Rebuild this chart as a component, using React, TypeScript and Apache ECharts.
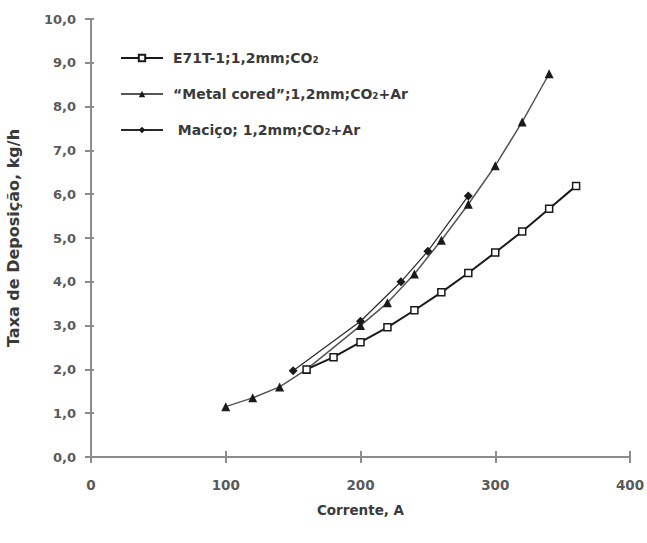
import React, { useEffect, useRef } from "react";
import * as echarts from "echarts";

const seriesNames = [
  "E71T-1;1,2mm;CO₂",
  "“Metal cored”;1,2mm;CO₂+Ar",
  " Maciço; 1,2mm;CO₂+Ar",
];

const e71Current = [160, 180, 200, 220, 240, 260, 280, 300, 320, 340, 360];
const e71Rate = [2.0, 2.28, 2.62, 2.96, 3.35, 3.76, 4.2, 4.67, 5.15, 5.67, 6.19];

const metalCurrent = [100, 120, 140, 160, 200, 220, 240, 260, 280, 300, 320, 340];
const metalRate = [1.15, 1.35, 1.6, 2.0, 3.0, 3.52, 4.18, 4.95, 5.77, 6.65, 7.65, 8.75];

const macicoCurrent = [150, 200, 230, 250, 280];
const macicoRate = [1.97, 3.1, 4.0, 4.7, 5.96];

const xTicks = [0, 100, 200, 300, 400];
const yTicks = [0, 1, 2, 3, 4, 5, 6, 7, 8, 9, 10];

const zip = (xs: number[], ys: number[]) => xs.map((x, i) => [x, ys[i]]);

export default function App() {
  const ref = useRef<HTMLDivElement>(null);
  useEffect(() => {
    if (!ref.current) return;
    const chart = echarts.init(ref.current, null, { renderer: "svg" });
    const axisColor = "#8c8c8c";
    const labelColor = "#5a5a5a";
    const font = "DejaVu Sans, Verdana, sans-serif";
    chart.setOption({
      animation: false,
      backgroundColor: "#ffffff",
      grid: { left: 91, right: 17, top: 19, bottom: 86, containLabel: false, outerBoundsMode: "none" },
      legend: {
        orient: "vertical",
        left: 115,
        top: 46,
        itemWidth: 42,
        itemHeight: 8,
        itemGap: 22,
        data: seriesNames,
        textStyle: {
          fontFamily: font,
          fontSize: 14,
          fontWeight: "bold",
          color: "#3a3a3a",
          padding: [0, 0, 0, 5],
        },
      },
      xAxis: [
        {
          type: "value",
          min: xTicks[0],
          max: xTicks[xTicks.length - 1],
          interval: 100,
          splitLine: { show: false },
          axisLine: { lineStyle: { color: axisColor, width: 2 } },
          axisTick: { show: true, length: 6, inside: false, lineStyle: { color: axisColor, width: 2 } },
          axisLabel: { color: labelColor, fontFamily: font, fontSize: 13.5, fontWeight: "bold", margin: 21 },
          name: "Corrente, A",
          nameLocation: "middle",
          nameGap: 46,
          nameTextStyle: { fontFamily: font, fontSize: 13.5, fontWeight: "bold", color: "#3a3a3a" },
        },
        {
          type: "value",
          position: "bottom",
          offset: 0,
          min: xTicks[0],
          max: xTicks[xTicks.length - 1],
          interval: 100,
          splitLine: { show: false },
          axisLine: { show: false },
          axisTick: { show: true, length: 6, inside: true, lineStyle: { color: axisColor, width: 2 } },
          axisLabel: { show: false },
        },
      ],
      yAxis: [
        {
          type: "value",
          min: yTicks[0],
          max: yTicks[yTicks.length - 1],
          interval: 1,
          splitLine: { show: false },
          axisLine: { show: true, lineStyle: { color: axisColor, width: 2 } },
          axisTick: { show: true, length: 6, lineStyle: { color: axisColor, width: 2 } },
          axisLabel: {
            color: labelColor,
            fontFamily: font,
            fontSize: 13,
            fontWeight: "bold",
            margin: 15,
            formatter: (v: number) => v.toFixed(1).replace(".", ","),
          },
          name: "Taxa de Deposição, kg/h",
          nameLocation: "middle",
          nameRotate: 90,
          nameGap: 70,
          nameTextStyle: { fontFamily: font, fontSize: 16, fontWeight: "bold", color: "#3a3a3a" },
        },
        {
          type: "value",
          position: "left",
          offset: 0,
          min: yTicks[0],
          max: yTicks[yTicks.length - 1],
          interval: 1,
          splitLine: { show: false },
          axisLine: { show: false },
          axisTick: { show: true, length: 3, inside: true, lineStyle: { color: axisColor, width: 2 } },
          axisLabel: { show: false },
        },
      ],
      series: [
        {
          name: seriesNames[0],
          type: "line",
          data: zip(e71Current, e71Rate),
          symbol: "rect",
          symbolSize: 7,
          showAllSymbol: true,
          lineStyle: { color: "#1a1a1a", width: 2 },
          itemStyle: { color: "#ffffff", borderColor: "#1a1a1a", borderWidth: 1.5 },
          z: 3,
        },
        {
          name: seriesNames[1],
          type: "line",
          data: zip(metalCurrent, metalRate),
          symbol: "triangle",
          symbolSize: 9,
          showAllSymbol: true,
          lineStyle: { color: "#555555", width: 1.5 },
          itemStyle: { color: "#1a1a1a", borderColor: "#1a1a1a", borderWidth: 0 },
          z: 2,
        },
        {
          name: seriesNames[2],
          type: "line",
          data: zip(macicoCurrent, macicoRate),
          symbol: "diamond",
          symbolSize: 9,
          showAllSymbol: true,
          lineStyle: { color: "#2a2a2a", width: 1.2 },
          itemStyle: { color: "#1a1a1a", borderColor: "#1a1a1a", borderWidth: 0 },
          z: 2,
        },
      ],
    });
    return () => chart.dispose();
  }, []);
  return (
    <div
      ref={ref}
      style={{ position: "absolute", left: 0, top: 0, width: 647, height: 543 }}
    />
  );
}
